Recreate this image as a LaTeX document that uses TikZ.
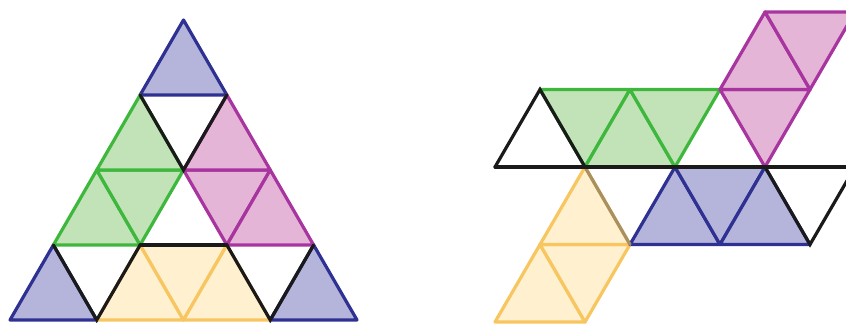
\documentclass[tikz,border=0pt]{standalone}
\usepackage{tikz}
\definecolor{blueedge}{HTML}{2E3192}
\definecolor{bluefill}{HTML}{B5B5DC}
\definecolor{greenedge}{HTML}{3DB83D}
\definecolor{greenfill}{HTML}{C2E2B8}
\definecolor{pinkedge}{HTML}{A8359F}
\definecolor{pinkfill}{HTML}{E5B5D8}
\definecolor{yellowedge}{HTML}{F7C660}
\definecolor{yellowfill}{HTML}{FFF0CF}
\definecolor{ink}{HTML}{1A1A1A}
\definecolor{olive}{HTML}{A89060}
\tikzset{piece/.style={line width=3.2pt,line join=round},
  bluetri/.style={piece,draw=blueedge,fill=bluefill},
  greentri/.style={piece,draw=greenedge,fill=greenfill},
  pinktri/.style={piece,draw=pinkedge,fill=pinkfill},
  yellowtri/.style={piece,draw=yellowedge,fill=yellowfill},
  blackedge/.style={draw=ink,line width=3.2pt,line cap=round}}
\newcommand{\uptri}[3]{\filldraw[#1,shift={(#2,#3)}](0,0)--(1,0)--(0,1)--cycle;}
\newcommand{\dntri}[3]{\filldraw[#1,shift={(#2,#3)}](1,0)--(0,1)--(1,1)--cycle;}
\begin{document}
\begin{tikzpicture}[x=1pt,y=1pt]
    \useasboundingbox (0,0) rectangle (846,324);
    \clip (0,0) rectangle (846,324);
    % big triangle
    \begin{scope}[shift={(10pt,4pt)},x={(86.75pt,0pt)},y={(43.375pt,75pt)}]
      \foreach \i/\j in {0/0,3/0,0/3} \uptri{bluetri}{\i}{\j};
      \uptri{yellowtri}{1}{0}\dntri{yellowtri}{1}{0}\uptri{yellowtri}{2}{0}
      \uptri{greentri}{0}{1}\dntri{greentri}{0}{1}\uptri{greentri}{0}{2}
      \dntri{pinktri}{1}{1}\uptri{pinktri}{2}{1}\uptri{pinktri}{1}{2}
      \draw[blackedge](0,3)--(1,2)--(1,3);
      \draw[blackedge](1,1)--(2,1);
      \draw[blackedge](0,1)--(1,0)--(1,1);
      \draw[blackedge](2,1)--(3,0)--(3,1);
    \end{scope}
    % unfolded net
    \begin{scope}[shift={(495pt,2pt)},x={(90pt,0pt)},y={(45pt,77.5pt)}]
      \uptri{yellowtri}{0}{0}\dntri{yellowtri}{0}{0}\uptri{yellowtri}{0}{1}
      \uptri{bluetri}{1}{1}\dntri{bluetri}{1}{1}\uptri{bluetri}{2}{1}
      \dntri{greentri}{-1}{2}\uptri{greentri}{0}{2}\dntri{greentri}{0}{2}
      \dntri{pinktri}{1}{2}\uptri{pinktri}{1}{3}\dntri{pinktri}{1}{3}
      \draw[olive,line width=3.2pt,line cap=round](1,1)--(0,2);
      \draw[blackedge](-1,2)--(3,2);
      \draw[blackedge](0,2)--(-1,3)--(-1,2);
      \draw[blackedge](2,2)--(3,1)--(3,2);
    \end{scope}
\end{tikzpicture}
\end{document}
